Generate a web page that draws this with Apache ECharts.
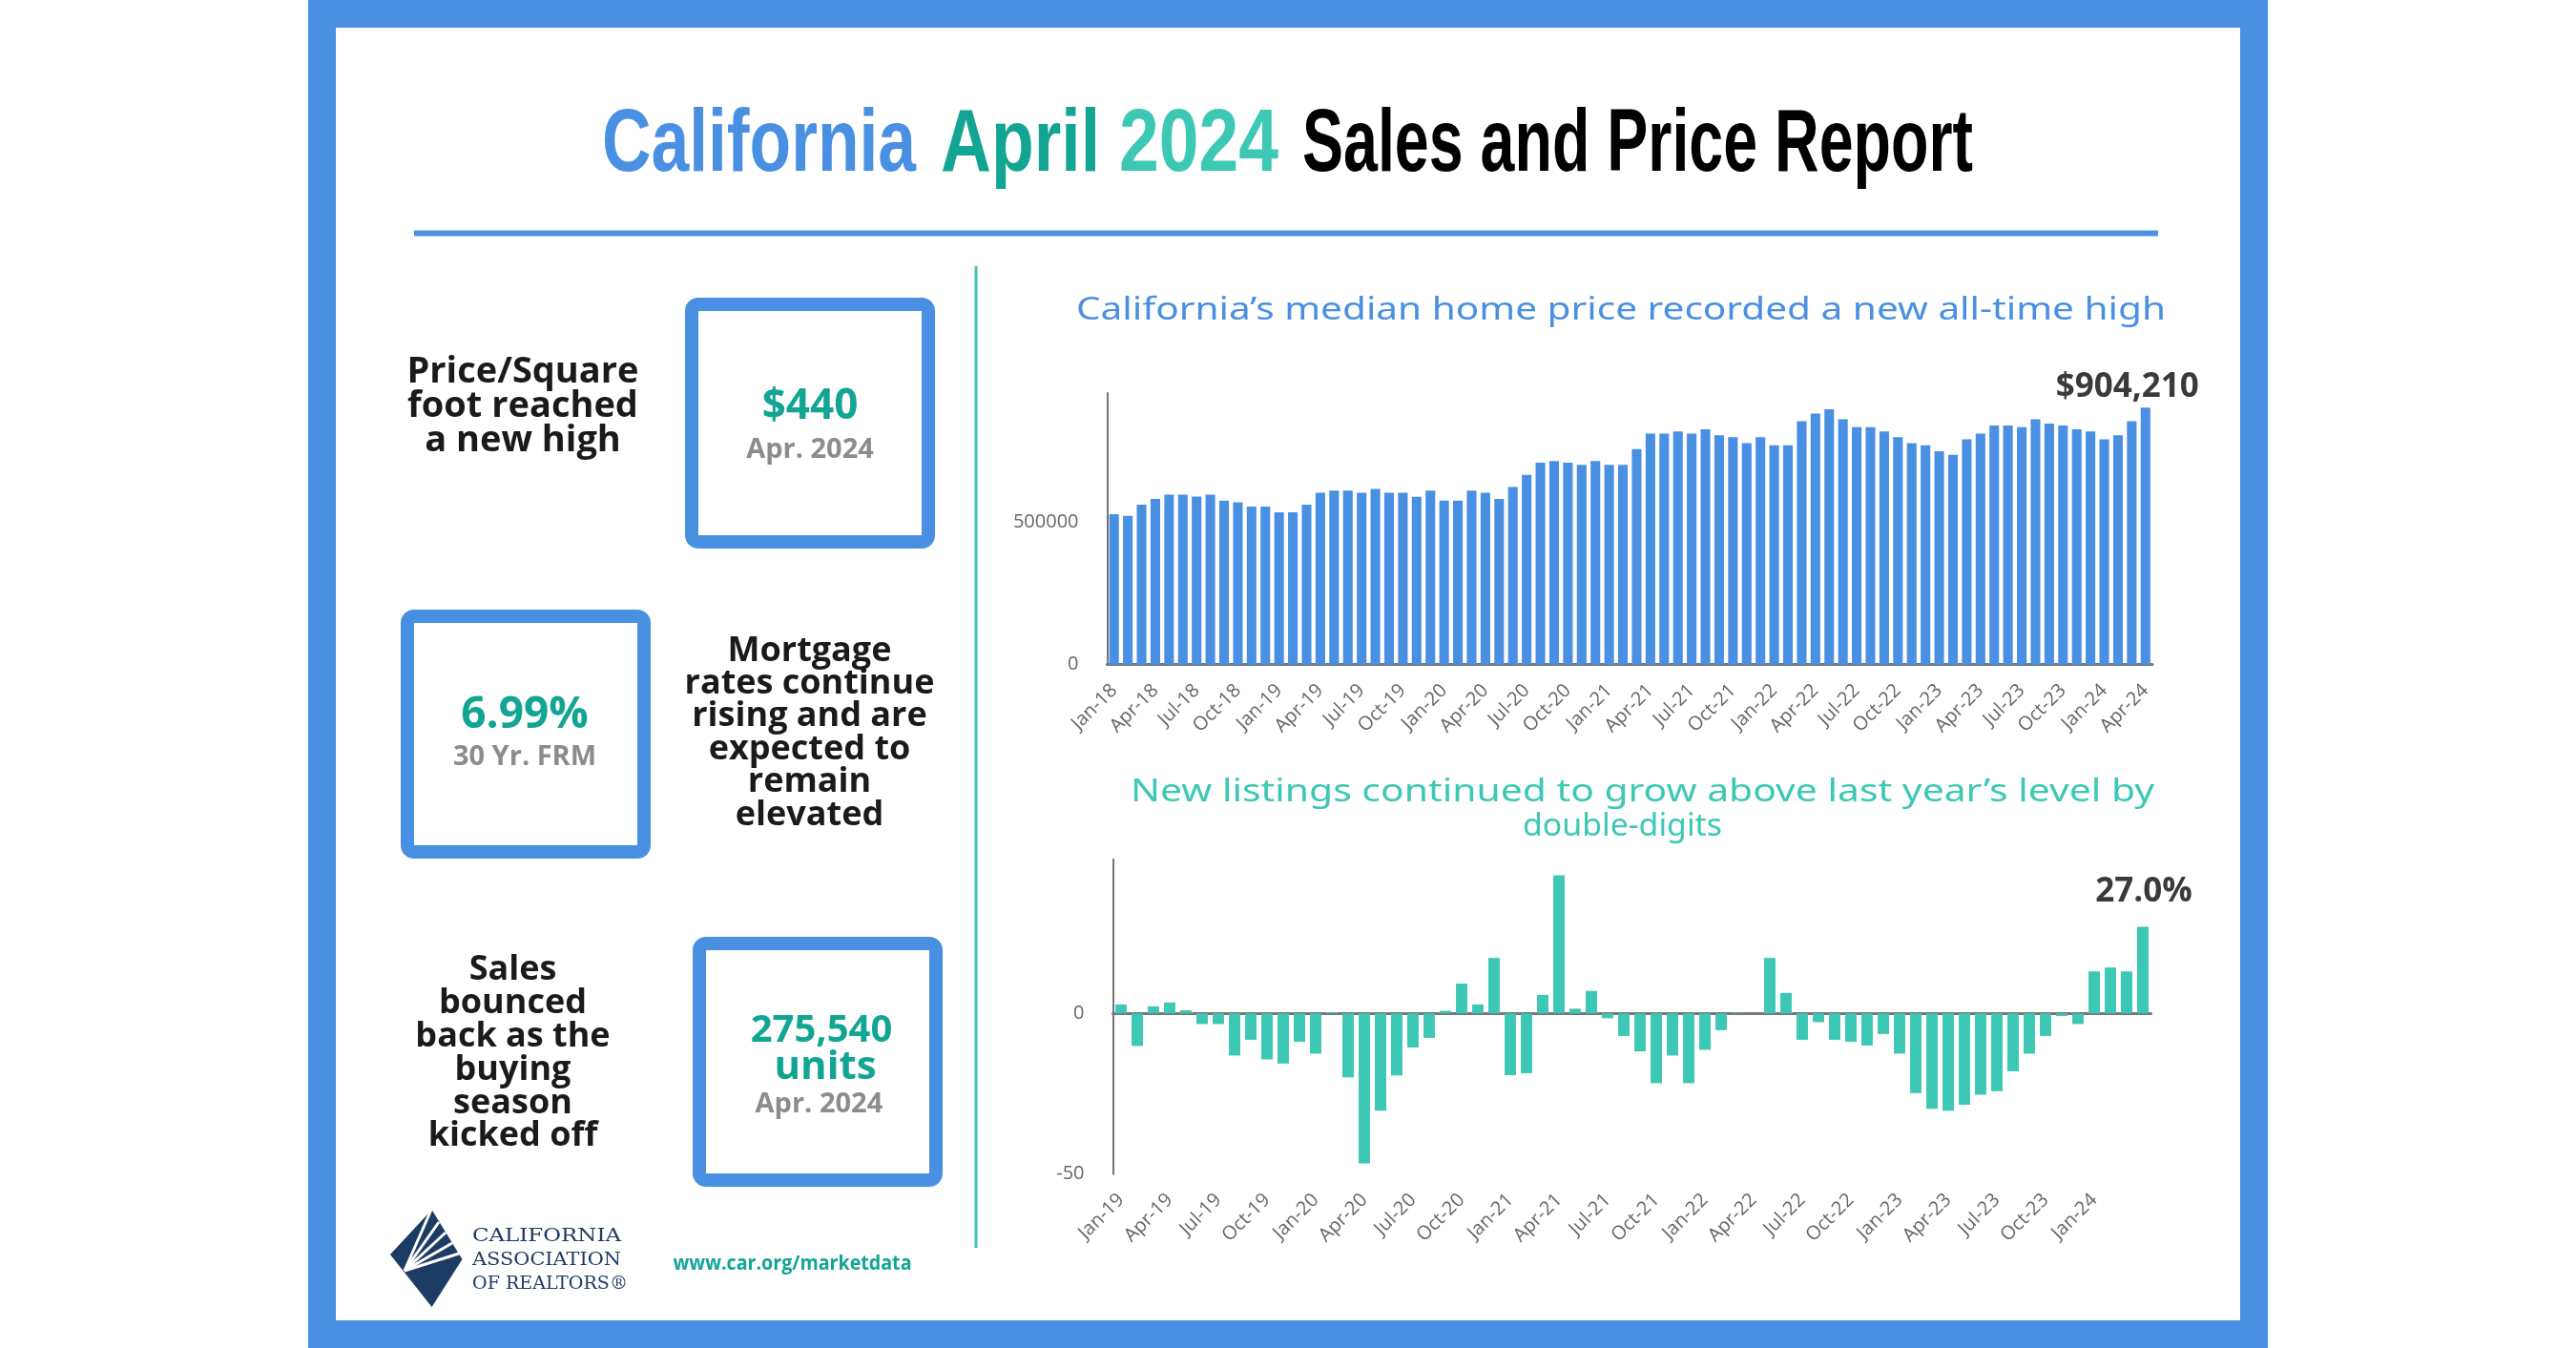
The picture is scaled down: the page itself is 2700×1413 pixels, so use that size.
<!DOCTYPE html>
<html><head><meta charset="utf-8">
<script src="https://cdn.jsdelivr.net/npm/echarts@6/dist/echarts.min.js"></script>
<style>html,body{margin:0;padding:0;background:#fff}#c{width:2700px;height:1413px}</style>
</head><body><div id="c"></div>
<script>
// ---------- data ----------
const MONTHS = ['Jan','Feb','Mar','Apr','May','Jun','Jul','Aug','Sep','Oct','Nov','Dec'];
function monthLabels(startYear, endYear, endMonthCount) {
  const out = [];
  for (let y = startYear; y <= endYear; y++) {
    for (let m = 0; m < 12; m++) {
      if (y === endYear && m >= endMonthCount) break;
      out.push(MONTHS[m] + '-' + y);
    }
  }
  return out;
}
const priceCategories = monthLabels(18, 24, 4);     // Jan-18 .. Apr-24
const listingCategories = monthLabels(19, 24, 4);   // Jan-19 .. Apr-24

const medianPrice = [
  529000,523000,563000,583000,598000,598000,591000,598000,577000,571000,556000,556000,
  536000,536000,563000,605000,612000,612000,605000,618000,605000,605000,590000,612000,
  577000,577000,612000,605000,583000,625000,668000,710000,716000,710000,703000,716000,
  703000,703000,758000,813000,813000,820000,813000,828000,807000,800000,779000,800000,
  772000,772000,856000,883000,898000,863000,835000,835000,820000,800000,779000,772000,
  751000,738000,793000,813000,841000,841000,835000,863000,848000,841000,828000,820000,
  793000,807000,856000,904210
];
const newListingsYoY = [
  2.8,-10.1,2.2,3.4,1.0,-3.3,-3.3,-13.1,-8.2,-14.3,-15.6,-8.8,
  -12.5,0.3,-19.9,-46.7,-30.3,-19.3,-10.6,-7.6,0.8,9.3,2.8,17.3,
  -19.2,-18.6,5.8,43.0,1.5,7.0,-1.5,-7.0,-11.8,-21.7,-13.1,-21.7,
  -11.3,-5.2,0.2,0,17.3,6.4,-8.2,-2.7,-8.2,-8.8,-10.0,-6.4,
  -12.5,-24.8,-29.7,-30.3,-28.4,-25.3,-24.2,-18.0,-12.5,-7.0,-0.8,-3.3,
  13.1,14.3,13.1,27.0
];
const priceTicks = { min: 0, max: 955000, interval: 500000 };
const listingTicks = { min: -50, max: 48, interval: 50 };

// ---------- styling ----------
const BLUE = '#4A90E2', TEAL = '#3CC8B4', DTEAL = '#12A593', GRAY = '#8C8C8C', INK = '#1a1a1a';
const AXIS = '#767676', LABEL = '#666666';
const DY = 4; // vertical nudge for middle-aligned text

const mctx = document.createElement('canvas').getContext('2d');
function textW(t, font) { mctx.font = font; return mctx.measureText(t).width; }
function fitText(t, font, x, y, targetW, color) {
  const s = targetW / textW(t, font);
  return { type: 'text', x: x, y: y + DY, scaleX: s, style: { text: t, font: font, fill: color,
    align: 'left', textAlign: 'left', verticalAlign: 'middle', textVerticalAlign: 'middle' } };
}
function fitCenter(t, font, cx, y, targetW, color) {
  const s = targetW / textW(t, font);
  return { type: 'text', x: cx, y: y + DY, scaleX: s, style: { text: t, font: font, fill: color,
    align: 'center', textAlign: 'center', verticalAlign: 'middle', textVerticalAlign: 'middle' } };
}
function ctext(t, font, cx, y, color, lh) {
  return { type: 'text', x: cx, y: y + DY, style: { text: t, font: font, fill: color, lineHeight: lh,
    align: 'center', textAlign: 'center', verticalAlign: 'middle', textVerticalAlign: 'middle' } };
}
function box(x0, y0, x1, y1) {
  const w = 14;
  return { type: 'rect', shape: { x: x0 + w/2, y: y0 + w/2, width: x1 - x0 - w, height: y1 - y0 - w, r: 7 },
    style: { fill: 'none', stroke: BLUE, lineWidth: w } };
}

const TITLE_FONT = 'bold 92px "Liberation Sans"';
const SUB_FONT = '33px "Noto Sans"';
const LEFT_FONT1 = 'bold 38px "Open Sans"';
const LEFT_FONT = 'bold 36px "Open Sans"';

// logo rays
const logoPivot = [424, 1332];
const rayEnds = [[452,1268],[460,1281],[467,1292],[474,1303],[481,1314]];
const logoRays = rayEnds.map(p => ({ type: 'line', shape: { x1: logoPivot[0], y1: logoPivot[1], x2: p[0], y2: p[1] },
  style: { stroke: '#ffffff', lineWidth: 3 } }));

const graphics = [
  { type: 'rect', shape: { x: 337.5, y: 14.5, width: 2025, height: 1384 }, style: { fill: 'none', stroke: BLUE, lineWidth: 29 } },
  fitText('California', TITLE_FONT, 631, 150, 329, BLUE),
  fitText('April', TITLE_FONT, 986, 150, 167, DTEAL),
  fitText('2024', TITLE_FONT, 1173, 150, 167, TEAL),
  fitText('Sales and Price Report', TITLE_FONT, 1365, 150, 703, '#000000'),
  { type: 'rect', shape: { x: 434, y: 241.5, width: 1828, height: 6 }, style: { fill: BLUE } },
  { type: 'rect', shape: { x: 1021.5, y: 279, width: 3, height: 1029 }, style: { fill: TEAL } },
  fitCenter("California\u2019s median home price recorded a new all-time high", SUB_FONT, 1699, 322, 1142, BLUE),
  fitCenter("New listings continued to grow above last year\u2019s level by", SUB_FONT, 1721.5, 827, 1073, TEAL),
  fitCenter('double-digits', SUB_FONT, 1700.5, 863, 209, TEAL),
  // left panel
  box(718, 312, 980, 575), box(420, 639, 682, 900), box(726, 982, 988, 1244),
  ctext('Price/Square\nfoot reached\na new high', LEFT_FONT1, 548, 421.9, INK, 35.8),
  ctext('$440', 'bold 44px "Open Sans"', 849, 422, DTEAL),
  ctext('Apr. 2024', 'bold 29px "Open Sans"', 849, 468, GRAY),
  ctext('6.99%', 'bold 46px "Open Sans"', 550, 745.5, DTEAL),
  ctext('30 Yr. FRM', 'bold 29px "Open Sans"', 550, 790, GRAY),
  ctext('Mortgage\nrates continue\nrising and are\nexpected to\nremain\nelevated', LEFT_FONT, 848.5, 764.4, INK, 34.4),
  ctext('Sales\nbounced\nback as the\nbuying\nseason\nkicked off', LEFT_FONT, 537.5, 1099.9, INK, 34.9),
  ctext('275,540', 'bold 40px "Open Sans"', 861, 1077, DTEAL),
  ctext('units', 'bold 42px "Open Sans"', 865, 1115, DTEAL),
  ctext('Apr. 2024', 'bold 29px "Open Sans"', 858.4, 1154, GRAY),
  // logo
  { type: 'polygon', shape: { points: [[452.6,1268],[484.5,1320],[452.6,1370],[409,1315]] }, style: { fill: '#1D3C63' } },
  ...logoRays,
  fitText('CALIFORNIA', '18px "DejaVu Serif"', 495, 1292, 156, '#1D3C63'),
  fitText('ASSOCIATION', '18px "DejaVu Serif"', 495, 1317, 156, '#1D3C63'),
  fitText('OF REALTORS\u00AE', '18px "DejaVu Serif"', 495, 1342, 163, '#1D3C63'),
  fitText('www.car.org/marketdata', 'bold 21px "Open Sans"', 705.5, 1321, 250, DTEAL)
];

const lastP = medianPrice.length - 1;
const lastL = newListingsYoY.length - 1;
const annot = { show: true, fontFamily: 'Open Sans', fontWeight: 'bold', fontSize: 35, color: '#3a3a3a' };
const plainNum = (v) => String(v);

const option = {
  animation: false,
  backgroundColor: '#ffffff',
  graphic: graphics,
  grid: [
    { left: 1160.5, width: 1095.5, top: 412.1, height: 284.6 },
    { left: 1166.5, width: 1088, top: 900.7, height: 330 }
  ],
  xAxis: [
    { type: 'category', gridIndex: 0, data: priceCategories,
      axisLine: { show: true, lineStyle: { color: AXIS, width: 3 } }, axisTick: { show: false },
      axisLabel: { rotate: 45, interval: 2, fontSize: 20, fontFamily: 'Open Sans', color: LABEL, margin: 24 } },
    { type: 'category', gridIndex: 1, data: listingCategories, position: 'bottom',
      axisLine: { show: true, onZero: true, lineStyle: { color: AXIS, width: 3 } }, axisTick: { show: false },
      axisLabel: { show: false } },
    { type: 'category', gridIndex: 1, data: listingCategories, position: 'bottom',
      axisLine: { show: false, onZero: false }, axisTick: { show: false },
      axisLabel: { rotate: 45, fontSize: 20, fontFamily: 'Open Sans', color: LABEL, margin: 24,
        interval: (i) => i % 3 === 0 && i <= 60 } }
  ],
  yAxis: [
    { type: 'value', gridIndex: 0, min: priceTicks.min, max: priceTicks.max, interval: priceTicks.interval,
      splitLine: { show: false }, axisTick: { show: false },
      axisLine: { show: true, lineStyle: { color: AXIS, width: 2 } },
      axisLabel: { showMaxLabel: false, formatter: plainNum, fontSize: 20, fontFamily: 'Open Sans', color: LABEL, margin: 30 } },
    { type: 'value', gridIndex: 1, min: listingTicks.min, max: listingTicks.max, interval: listingTicks.interval,
      splitLine: { show: false }, axisTick: { show: false },
      axisLine: { show: true, onZero: false, lineStyle: { color: AXIS, width: 2 } },
      axisLabel: { showMaxLabel: false, formatter: plainNum, fontSize: 20, fontFamily: 'Open Sans', color: LABEL, margin: 30 } }
  ],
  series: [
    { type: 'bar', xAxisIndex: 0, yAxisIndex: 0, barCategoryGap: '30%', itemStyle: { color: BLUE },
      data: medianPrice.map((v, i) => i === lastP ? { value: v, label: Object.assign({}, annot, {
        position: 'top', distance: 4, offset: [-19, 0], formatter: (p) => '$' + p.value.toLocaleString('en-US') }) } : v) },
    { type: 'bar', xAxisIndex: 1, yAxisIndex: 1, barCategoryGap: '30%', itemStyle: { color: TEAL },
      data: newListingsYoY.map((v, i) => i === lastL ? { value: v, label: Object.assign({}, annot, {
        position: 'top', distance: 19, offset: [1, 0], formatter: (p) => p.value.toFixed(1) + '%' }) } : v) }
  ]
};
const chart = echarts.init(document.getElementById('c'), null, { renderer: 'canvas' });
chart.setOption(option);
</script>
</body></html>
